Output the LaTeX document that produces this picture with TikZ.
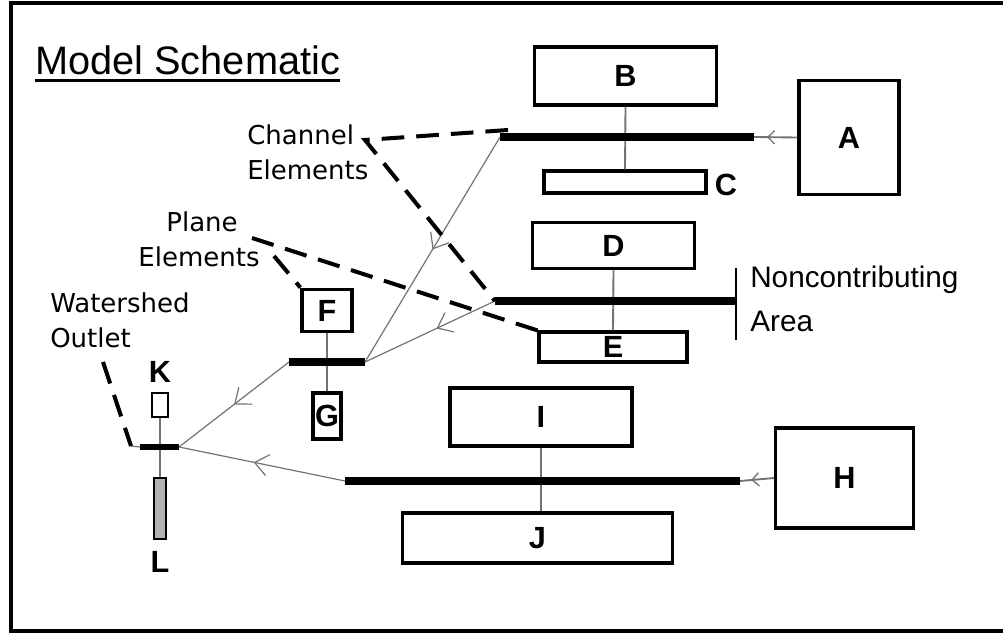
\documentclass[tikz,border=0pt]{standalone}
\usepackage{fontspec}
\setmainfont{Liberation Sans}
\newfontfamily\dejavu{DejaVu Sans}
\usetikzlibrary{arrows.meta,decorations.markings}

\tikzset{
  box/.style={draw,line width=2.4pt,inner sep=0pt,
    font=\bfseries\fontsize{23}{23}\selectfont},
  tiny box/.style={draw,line width=1.6pt,inner sep=0pt},
  letter/.style={inner sep=0pt,font=\bfseries\fontsize{23}{23}\selectfont},
  callout text/.style={inner sep=0pt,font=\dejavu\fontsize{19.5}{20}\selectfont},
  area text/.style={inner sep=0pt,font=\fontsize{22.3}{22}\selectfont},
  channel/.style={line width=6.2pt},
  stem/.style={draw=black!55,line width=1.4pt},
  flow/.style={draw=black!55,line width=0.9pt,postaction={decorate},
    decoration={markings,mark=at position #1 with
      {\arrow[black!55,line width=0.9pt]{Straight Barb[length=10pt,width=16pt]}}}},
  flow/.default=0.5,
  inflow/.style={draw=black!55,line width=1.4pt,postaction={decorate},
    decoration={markings,mark=at position #1 with
      {\arrow[black!55,line width=1pt]{Straight Barb[length=5pt,width=10pt]}}}},
  callout/.style={line width=3pt,dash pattern=on 17pt off 9pt},
}

\begin{document}
\begin{tikzpicture}[x=0.75pt,y=-0.75pt]
  \useasboundingbox (0,0) rectangle (1003,634);
  % frame, open on the right
  \draw[line width=2.5pt] (1003,3) -- (11,3) -- (11,631) -- (1003,631);

  \node[inner sep=0pt,anchor=base west,font=\fontsize{29.8}{30}\selectfont]
    (title) at (35,75) {Model Schematic};
  \draw[line width=2.4pt] ([yshift=-4pt]title.base west) -- ([yshift=-4pt]title.base east);

  % planes
  \node[box,minimum width=137pt,minimum height=43.5pt] (B) at (625.5,76) {B};
  \node[box,minimum width=75pt,minimum height=86pt] (A) at (849,137.5) {A};
  \node[box,minimum width=121.5pt,minimum height=16.5pt] (C) at (625,182) {};
  \node[letter] (Clbl) at (726,185) {C};
  \node[box,minimum width=122pt,minimum height=34pt] (D) at (613.5,245.5) {D};
  \node[box,minimum width=111pt,minimum height=22.5pt] (E) at (613,347) {E};
  \node[box,minimum width=37.5pt,minimum height=32pt] (F) at (327,310.5) {F};
  \node[box,minimum width=21pt,minimum height=34.5pt] (G) at (327,416) {G};
  \node[box,minimum width=136.5pt,minimum height=43.5pt] (I) at (541,417) {I};
  \node[box,minimum width=202pt,minimum height=37.5pt] (J) at (537.5,538) {J};
  \node[box,minimum width=103pt,minimum height=75pt] (H) at (844.5,478) {H};
  \node[tiny box,minimum width=12pt,minimum height=18pt] (K) at (160,405) {};
  \node[letter] (Klbl) at (160,372) {K};
  \node[tiny box,fill=gray!60,minimum width=9pt,minimum height=46pt] (L) at (160,508.5) {};
  \node[letter] (Llbl) at (160,562) {L};

  % channel ends
  \coordinate (b1w) at (500,137);  \coordinate (b1e) at (754,137);
  \coordinate (b2w) at (495,301);  \coordinate (b2e) at (737,301);
  \coordinate (b3w) at (345,481);  \coordinate (b3e) at (740,481);
  \coordinate (bFw) at (289,362);  \coordinate (bFe) at (365,362);
  \coordinate (bOw) at (140,447);  \coordinate (bOe) at (179,447);
  \coordinate (outlet) at (131,446);

  % stems between planes
  \draw[stem] (B.south) -- (C.north);
  \draw[stem] (D.south) -- (E.north);
  \draw[stem] (I.south) -- (I.south |- J.north);
  \draw[stem] (F.south) -- (G.north);
  \draw[stem] (K.south) -- (L.north);

  \draw[channel] (b1w) -- (b1e);
  \draw[channel] (b2w) -- (b2e);
  \draw[channel] (b3w) -- (b3e);
  \draw[channel] (bFw) -- (bFe);
  \draw[line width=5.2pt] (bOw) -- (bOe);

  % flow between channels
  \draw[flow=0.5] (b1w) -- (bFe);
  \draw[flow=0.45] (b2w) -- (bFe);
  \draw[flow=0.5] (bFw) -- (bOe);
  \draw[flow=0.55] (b3w) -- (bOe);
  \draw[inflow=0.7] (A.west) -- (b1e);
  \draw[inflow=0.67] (H.west) -- (b3e);
  \draw[stem,line width=0.9pt] (bOw) -- (outlet);

  % noncontributing area
  \coordinate (nctop) at (736,268);
  \coordinate (ncbot) at (736,340);
  \draw[line width=2pt] (nctop) -- (ncbot);
  \node[area text,anchor=base west] (nc1) at (750,288) {Noncontributing};
  \node[area text,anchor=base west] (nc2) at (750,332) {Area};

  % callouts
  \node[callout text,anchor=base west] (ch1) at (247,145) {Channel};
  \node[callout text,anchor=base west] (ch2) at (247,180) {Elements};
  \node[callout text,anchor=base] (pl1) at (202,232) {Plane};
  \node[callout text,anchor=base] (pl2) at (199,267) {Elements};
  \node[callout text,anchor=base west] (ws1) at (50,313) {Watershed};
  \node[callout text,anchor=base west] (ws2) at (50,348) {Outlet};

  \coordinate (chv) at (365,140);
  \coordinate (chtop) at (508,130);
  \draw[callout] (chtop) -- (chv) -- (b2w);
  \coordinate (plv) at (252,238);
  \coordinate (plv2) at (274,256);
  \draw[callout] (plv) -- (E.north west);
  \draw[callout] (plv2) -- (F.north west);
  \coordinate (wsv) at (103,362);
  \draw[callout] (wsv) -- (outlet);
\end{tikzpicture}
\end{document}
